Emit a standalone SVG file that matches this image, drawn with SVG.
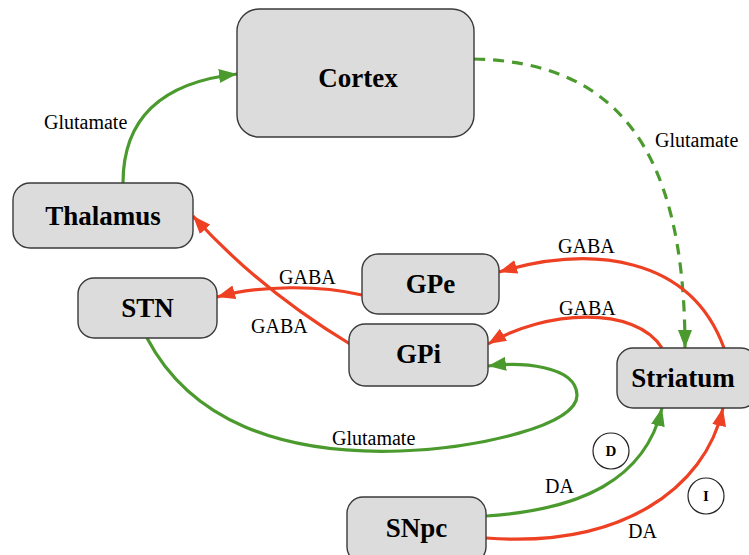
<svg xmlns="http://www.w3.org/2000/svg" width="749" height="555" viewBox="0 0 749 555">
<style>
.node{fill:#dcdcdc;stroke:#3a3a3a;stroke-width:1.4}
.nt{font-family:"Liberation Serif",serif;font-weight:bold;font-size:27px;text-anchor:middle;fill:#000}
.lbl{font-family:"Liberation Serif",serif;font-size:20px;fill:#000}
.g{fill:none;stroke:#4b9a2e;stroke-width:3.2}
.r{fill:none;stroke:#ee4023;stroke-width:3.2}
.dash{stroke-dasharray:11 8}
.circ{fill:#fff;stroke:#222;stroke-width:1.2}
.ct{font-family:"Liberation Serif",serif;font-weight:bold;font-size:15px;text-anchor:middle}
</style>
<defs>
<marker id="ag" markerUnits="userSpaceOnUse" markerWidth="20" markerHeight="14" refX="18" refY="7" orient="auto"><path d="M0,0 L18,7 L0,14 z" fill="#4b9a2e"/></marker>
<marker id="ar" markerUnits="userSpaceOnUse" markerWidth="20" markerHeight="14" refX="18" refY="7" orient="auto"><path d="M0,0 L18,7 L0,14 z" fill="#ee4023"/></marker>
</defs>
<g id="connectors">
<path class="g" d="M123,183 C123,115 165,82 237,74" marker-end="url(#ag)"/>
<path class="g dash" d="M474,59 C610,62 685,140 685,348" marker-end="url(#ag)"/>
<path class="r" d="M724,348 C690,255 590,245 499,272" marker-end="url(#ar)"/>
<path class="r" d="M662,348 C635,305 545,310 488,344" marker-end="url(#ar)"/>
<path class="r" d="M362,295 C320,285 260,285 217,297" marker-end="url(#ar)"/>
<path class="r" d="M350,344 Q260,290 193,216" marker-end="url(#ar)"/>
<path class="g" d="M147,338 C190,420 280,455 400,451 C480,448 578,425 577,395 C576,365 520,362 488,366" marker-end="url(#ag)"/>
<path class="g" d="M486,516 C580,510 645,480 662,408" marker-end="url(#ag)"/>
<path class="r" d="M486,538 C620,548 705,490 723,408" marker-end="url(#ar)"/>
</g>
<g id="labels">
<text class="lbl" x="44" y="129">Glutamate</text>
<text class="lbl" x="655" y="147">Glutamate</text>
<text class="lbl" x="558" y="253">GABA</text>
<text class="lbl" x="559" y="315">GABA</text>
<text class="lbl" x="279" y="284">GABA</text>
<text class="lbl" x="251" y="333">GABA</text>
<text class="lbl" x="332" y="445">Glutamate</text>
<text class="lbl" x="545" y="493">DA</text>
<text class="lbl" x="628" y="538">DA</text>
</g>
<g id="cortex"><rect class="node" x="237" y="9" width="237" height="128" rx="22"/><text class="nt" x="358" y="87">Cortex</text></g>
<g id="thalamus"><rect class="node" x="13" y="183" width="180" height="65" rx="17"/><text class="nt" x="103" y="225">Thalamus</text></g>
<g id="stn"><rect class="node" x="78" y="278" width="139" height="60" rx="16"/><text class="nt" x="147.5" y="317">STN</text></g>
<g id="gpe"><rect class="node" x="362" y="254" width="137" height="60" rx="16"/><text class="nt" x="430.5" y="293">GPe</text></g>
<g id="gpi"><rect class="node" x="349" y="324" width="139" height="62" rx="16"/><text class="nt" x="418.5" y="363">GPi</text></g>
<g id="striatum"><rect class="node" x="617" y="348" width="140" height="60" rx="16"/><text class="nt" x="683" y="387">Striatum</text></g>
<g id="snpc"><rect class="node" x="347" y="497" width="139" height="66" rx="16"/><text class="nt" x="416.5" y="537">SNpc</text></g>
<g id="d-marker"><circle class="circ" cx="611" cy="451" r="18"/><text class="ct" x="611" y="456">D</text></g>
<g id="i-marker"><circle class="circ" cx="706" cy="496" r="18"/><text class="ct" x="706" y="501">I</text></g>
</svg>
